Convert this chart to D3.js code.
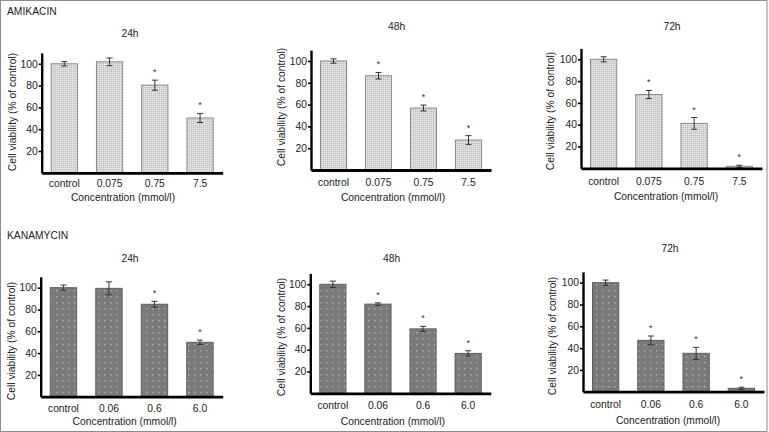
<!DOCTYPE html>
<html>
<head>
<meta charset="utf-8">
<script src="https://cdn.jsdelivr.net/npm/d3@7/dist/d3.min.js"></script>
<style>
  html, body { margin: 0; padding: 0; background: #fff; }
  svg { display: block; }
  text { font-family: "Liberation Sans", Arial, sans-serif; }
</style>
</head>
<body>
<svg id="chart" width="769" height="432"></svg>
<script>
// ---------- data ----------
const drugNames = ["AMIKACIN", "KANAMYCIN"];
const timeLabels = ["24h", "48h", "72h"];
const amikacinCats = ["control", "0.075", "0.75", "7.5"];
const kanamycinCats = ["control", "0.06", "0.6", "6.0"];
const yTicks = [20, 40, 60, 80, 100];
const yLabel = "Cell viability (% of control)";
const xLabel = "Concentration (mmol/l)";

const amikacin24 = [100, 101.8, 80.4, 50.3];
const amikacin24Err = [2, 3.5, 4.6, 4.2];
const amikacin24Sig = [false, false, true, true];
const amikacin48 = [100, 86.5, 56.9, 27.5];
const amikacin48Err = [2, 3, 2.7, 4];
const amikacin48Sig = [false, true, true, true];
const amikacin72 = [100, 67.7, 41.2, 1.8];
const amikacin72Err = [2.3, 3.7, 5.4, 1];
const amikacin72Sig = [false, true, true, true];

const kanamycin24 = [100, 99.4, 84.8, 49.9];
const kanamycin24Err = [2.4, 6, 2.7, 2];
const kanamycin24Sig = [false, false, true, true];
const kanamycin48 = [100, 81.8, 59.1, 36.6];
const kanamycin48Err = [2.9, 1.2, 2.3, 2.4];
const kanamycin48Sig = [false, true, true, true];
const kanamycin72 = [100, 47.1, 35.2, 3.1];
const kanamycin72Err = [2.4, 4, 5.5, 1];
const kanamycin72Sig = [false, true, true, true];

// ---------- layout (positions only) ----------
const panels = [
  {cats: amikacinCats, vals: amikacin24, errs: amikacin24Err, sig: amikacin24Sig, title: timeLabels[0], fill: "url(#patA)", stroke: "#8a8a8a",
   ax: 41.7, base: 172.8, right: 222.7, titleX: 130, titleY: 37, tickY: 186.8, xtX: 123, xtY: 200.8, ylX: 12, ylY: 112},
  {cats: amikacinCats, vals: amikacin48, errs: amikacin48Err, sig: amikacin48Sig, title: timeLabels[1], fill: "url(#patA)", stroke: "#8a8a8a",
   ax: 311, base: 170, right: 491, titleX: 396.7, titleY: 30, tickY: 185.5, xtX: 393, xtY: 200.8, ylX: 281.7, ylY: 107},
  {cats: amikacinCats, vals: amikacin72, errs: amikacin72Err, sig: amikacin72Sig, title: timeLabels[2], fill: "url(#patA)", stroke: "#8a8a8a",
   ax: 581, base: 168.3, right: 762, titleX: 672, titleY: 29.5, tickY: 185.5, xtX: 666, xtY: 199.8, ylX: 550, ylY: 111},
  {cats: kanamycinCats, vals: kanamycin24, errs: kanamycin24Err, sig: kanamycin24Sig, title: timeLabels[0], fill: "url(#patK)", stroke: "#5e5e5e",
   ax: 40.7, base: 396.7, right: 222.7, titleX: 130, titleY: 262, tickY: 411.8, xtX: 124.7, xtY: 424.5, ylX: 11, ylY: 341},
  {cats: kanamycinCats, vals: kanamycin48, errs: kanamycin48Err, sig: kanamycin48Sig, title: timeLabels[1], fill: "url(#patK)", stroke: "#5e5e5e",
   ax: 310.3, base: 393.3, right: 490.7, titleX: 391.7, titleY: 262, tickY: 408.8, xtX: 392.8, xtY: 424.5, ylX: 281, ylY: 337},
  {cats: kanamycinCats, vals: kanamycin72, errs: kanamycin72Err, sig: kanamycin72Sig, title: timeLabels[2], fill: "url(#patK)", stroke: "#5e5e5e",
   ax: 583, base: 391.7, right: 764, titleX: 670, titleY: 251.5, tickY: 408, xtX: 668, xtY: 423.8, ylX: 552.7, ylY: 336}
];

const FS = 10.3;
const PX_PER_UNIT = 1.09;
const svg = d3.select("#chart");

// patterns
const defs = svg.append("defs");
const pA = defs.append("pattern").attr("id", "patA").attr("patternUnits", "userSpaceOnUse")
  .attr("width", 2).attr("height", 2);
pA.append("rect").attr("width", 2).attr("height", 2).attr("fill", "#d4d4d4");
pA.append("rect").attr("x", 0).attr("y", 0).attr("width", 1).attr("height", 1).attr("fill", "#ebebeb");
pA.append("rect").attr("x", 1).attr("y", 1).attr("width", 1).attr("height", 1).attr("fill", "#c2c2c2");
const pK = defs.append("pattern").attr("id", "patK").attr("patternUnits", "userSpaceOnUse")
  .attr("width", 6).attr("height", 6);
pK.append("rect").attr("width", 6).attr("height", 6).attr("fill", "#7a7a7a");
pK.append("rect").attr("x", 2).attr("y", 2).attr("width", 1.4).attr("height", 1.4).attr("fill", "#b0b0b0");

// frame
svg.append("rect").attr("x", 0.5).attr("y", 0.5).attr("width", 766.5).attr("height", 431)
  .attr("fill", "none").attr("stroke", "#8c8c8c").attr("stroke-width", 1);

// drug labels
svg.append("text").attr("x", 7).attr("y", 14.7).attr("font-size", FS).attr("fill", "#222").text(drugNames[0]);
svg.append("text").attr("x", 7).attr("y", 238.7).attr("font-size", FS).attr("fill", "#222").text(drugNames[1]);

panels.forEach(p => {
  const g = svg.append("g");
  const rows = p.cats.map((c, i) => ({cat: c, v: p.vals[i], e: p.errs[i], s: p.sig[i]}));
  const y = d3.scaleLinear().domain([0, 110]).range([p.base, p.base - 110 * PX_PER_UNIT]);
  const x = d3.scaleBand().domain(p.cats).range([p.ax, p.right]).paddingInner(0.42).paddingOuter(0.21);
  const cx = d => x(d.cat) + x.bandwidth() / 2;

  // bars
  g.selectAll("rect.bar").data(rows).join("rect").attr("class", "bar")
    .attr("x", d => x(d.cat))
    .attr("width", x.bandwidth())
    .attr("y", d => y(d.v))
    .attr("height", d => y(0) - y(d.v))
    .attr("fill", p.fill)
    .attr("stroke", p.stroke).attr("stroke-width", 1);

  // error bars
  const eb = g.selectAll("g.err").data(rows).join("g").attr("class", "err")
    .attr("stroke", "#333").attr("stroke-width", 1);
  eb.append("line")
    .attr("x1", cx).attr("x2", cx)
    .attr("y1", d => y(d.v - d.e))
    .attr("y2", d => y(d.v + d.e));
  [1, -1].forEach(s => {
    eb.append("line")
      .attr("x1", d => cx(d) - 3)
      .attr("x2", d => cx(d) + 3)
      .attr("y1", d => y(d.v + s * d.e))
      .attr("y2", d => y(d.v + s * d.e));
  });

  // significance stars
  g.selectAll("text.star").data(rows.filter(d => d.s)).join("text").attr("class", "star")
    .attr("x", cx)
    .attr("y", d => y(d.v + d.e) - 5)
    .attr("text-anchor", "middle").attr("font-size", 9).attr("fill", "#333")
    .text("*");

  // y axis
  const yAxis = d3.axisLeft(y).tickValues(yTicks).tickSize(3).tickSizeOuter(0).tickPadding(1);
  const ya = g.append("g").attr("transform", `translate(${p.ax},0)`).call(yAxis);
  ya.select(".domain").attr("stroke", "#000").attr("stroke-width", 2.4);
  ya.selectAll(".tick line").attr("stroke", "#000").attr("stroke-width", 1.6);
  ya.selectAll(".tick text").attr("font-size", FS).attr("fill", "#222")
    .attr("font-family", "'Liberation Sans', Arial, sans-serif");

  // x axis line
  const xa = d3.axisBottom(x).tickSize(0).tickSizeOuter(0).tickPadding(0);
  const xg = g.append("g").attr("transform", `translate(0,${p.base})`).call(xa);
  xg.select(".domain").attr("stroke", "#000").attr("stroke-width", 2.8);
  xg.selectAll(".tick text").attr("font-size", FS).attr("fill", "#222")
    .attr("font-family", "'Liberation Sans', Arial, sans-serif")
    .attr("dy", null).attr("y", p.tickY - p.base);

  // titles
  g.append("text").attr("x", p.titleX).attr("y", p.titleY).attr("text-anchor", "middle")
    .attr("font-size", FS).attr("fill", "#222").text(p.title);
  g.append("text").attr("x", p.xtX).attr("y", p.xtY).attr("text-anchor", "middle")
    .attr("font-size", FS).attr("fill", "#222").text(xLabel);
  g.append("text").attr("transform", `translate(${p.ylX + 3.7},${p.ylY}) rotate(-90)`)
    .attr("text-anchor", "middle").attr("font-size", FS).attr("fill", "#222").text(yLabel);
});
</script>
</body>
</html>
